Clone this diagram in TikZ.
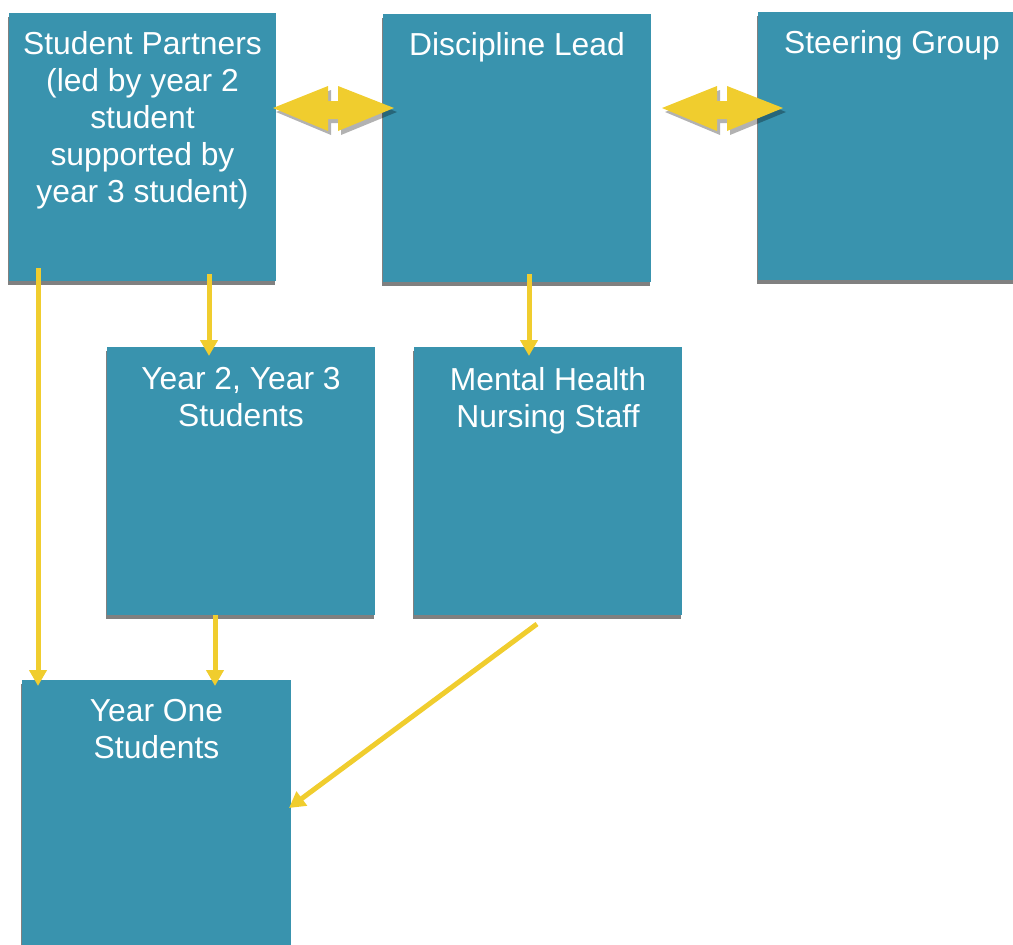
\documentclass[tikz,border=0pt]{standalone}
\usepackage{fontspec}
\setmainfont{Liberation Sans}
\usetikzlibrary{arrows.meta,calc}

\definecolor{boxteal}{HTML}{3993AE}
\definecolor{flowyellow}{HTML}{F0CD2E}
\definecolor{shadowgray}{HTML}{808080}

\tikzset{
  orgbox/.style={fill=boxteal, draw=none, minimum width=268pt, minimum height=268pt,
    inner sep=0pt, outer sep=0pt, anchor=north west},
  boxtext/.style={text=white, font=\fontsize{31.8}{37}\selectfont, align=center,
    inner sep=0pt, anchor=north},
  flow/.style={draw=flowyellow, line width=5pt, -{Triangle[length=16pt,width=17pt]}},
  twoway/.style={fill=flowyellow},
  twowayshadow/.style={fill=black, opacity=0.3},
}

% box with a flat grey shadow under its lower edge
\newcommand{\orgboxat}[4]{%
  \fill[shadowgray] (#2-1,#3+4) rectangle (#2+#4-1,#3+272);
  \node[orgbox, minimum width=#4pt] (#1) at (#2,#3) {};
}

% two-headed arrow with a notch in the middle, drawn from its left tip
\newcommand{\twowayarrow}[1]{%
  \begin{scope}[shift={(#1)}]
    \fill[twowayshadow] (3,4) -- (58,-18) -- (58,-6) -- (68,-6) -- (68,-18) -- (124,4)
      -- (68,27) -- (68,15) -- (58,15) -- (58,27) -- cycle;
    \fill[twoway] (0,0) -- (55,-22) -- (55,-7) -- (65,-7) -- (65,-22) -- (121,0)
      -- (65,23) -- (65,11) -- (55,11) -- (55,23) -- cycle;
  \end{scope}
}

\begin{document}
\begin{tikzpicture}[x=1pt, y=-1pt]
  \useasboundingbox (0,0) rectangle (1013,945);
  \clip (0,0) rectangle (1013,945);

  % boxes
  \orgboxat{partners}{9}{13}{267}
  \orgboxat{lead}{383}{14}{268}
  \orgboxat{steering}{758}{12}{268}
  \orgboxat{seniors}{107}{347}{268}
  \orgboxat{staff}{414}{347}{268}
  \orgboxat{yearone}{22}{680}{269}

  % texts
  \node[boxtext] (partnersText) at ([yshift=-18pt]partners.north)
    {Student Partners\\(led by year 2\\student\\supported by\\year 3 student)};
  \node[boxtext] (leadText) at ([yshift=-18pt]lead.north) {Discipline Lead};
  \node[boxtext] (steeringText) at ([yshift=-18pt]steering.north) {Steering Group};
  \node[boxtext] (seniorsText) at ([yshift=-20pt]seniors.north) {Year 2, Year 3\\Students};
  \node[boxtext] (staffText) at ([yshift=-20pt]staff.north) {Mental Health\\Nursing Staff};
  \node[boxtext] (yearoneText) at ([yshift=-19pt]yearone.north) {Year One\\Students};

  % two-way links along the top row
  \coordinate (linkA) at ($(partners.east)+(-3,-39)$);
  \coordinate (linkB) at ($(lead.east)+(11,-40)$);
  \twowayarrow{linkA}
  \twowayarrow{linkB}

  % downward flows
  \draw[flow] ([xshift=29pt,yshift=13pt]partners.south west) -- ([xshift=16pt,yshift=-6pt]yearone.north west);
  \draw[flow] ([xshift=200pt,yshift=7pt]partners.south west) -- ([xshift=102pt,yshift=-9pt]seniors.north west);
  \draw[flow] ([xshift=146pt,yshift=8pt]lead.south west) -- ([xshift=115pt,yshift=-9pt]staff.north west);
  \draw[flow] ([xshift=108pt]seniors.south west) -- ([xshift=193pt,yshift=-6pt]yearone.north west);
  \draw[flow] ([xshift=123pt,yshift=-9pt]staff.south west) -- ([xshift=-2pt,yshift=-128pt]yearone.north east);
\end{tikzpicture}
\end{document}
